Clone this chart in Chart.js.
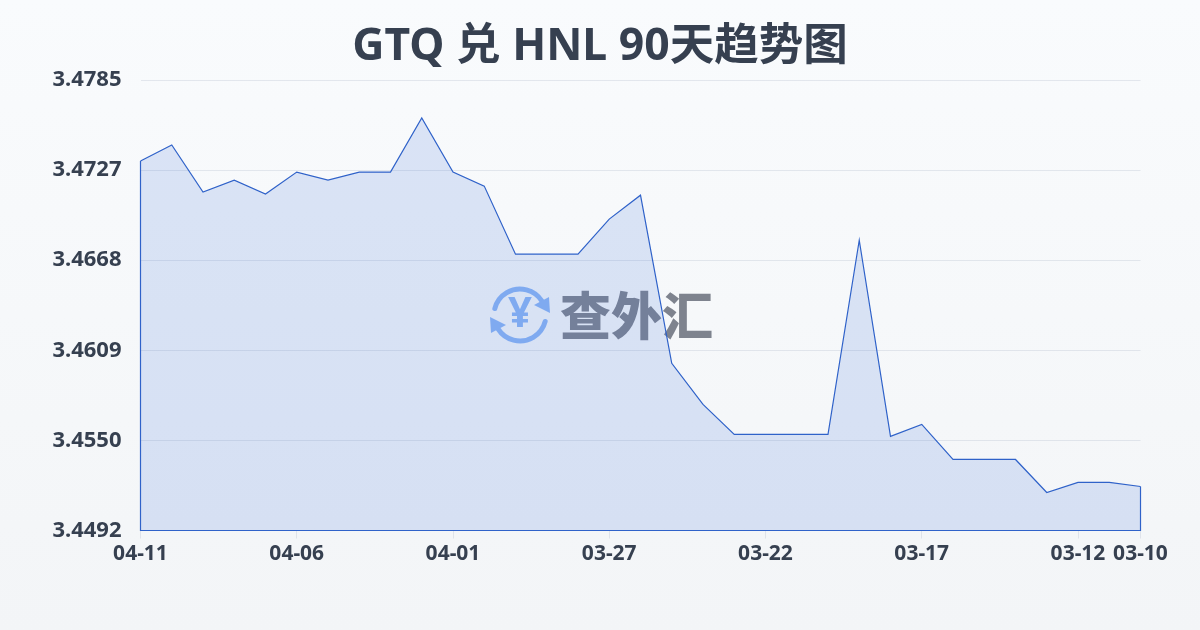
<!DOCTYPE html>
<html><head><meta charset="utf-8">
<script src="https://cdn.jsdelivr.net/npm/chart.js@4/dist/chart.umd.min.js"></script>
<style>
html,body{margin:0;padding:0;width:1200px;height:630px;overflow:hidden;background:linear-gradient(180deg,#f9fbfd 0%,#f3f5f7 100%);}
#w{position:absolute;left:0;top:0;width:1200px;height:630px}
</style></head><body><div id="w"><canvas id="c" width="1200" height="630"></canvas></div>
<script>
const titleText = 'GTQ 兑 HNL 90天趋势图';
const watermarkText = '查外汇';
const categories = ['04-11','04-10','04-09','04-08','04-07','04-06','04-05','04-04','04-03','04-02','04-01','03-31','03-30','03-29','03-28','03-27','03-26','03-25','03-24','03-23','03-22','03-21','03-20','03-19','03-18','03-17','03-16','03-15','03-14','03-13','03-12','03-11','03-10'];
const rates = [3.47323,3.47427,3.47121,3.47199,3.47108,3.47251,3.47199,3.47251,3.47251,3.47603,3.47251,3.47160,3.46717,3.46717,3.46717,3.46945,3.47101,3.46007,3.45740,3.45545,3.45545,3.45545,3.45545,3.46808,3.45532,3.45610,3.45382,3.45382,3.45382,3.45167,3.45233,3.45233,3.45206];
const xTickLabels = ['04-11','04-06','04-01','03-27','03-22','03-17','03-12','03-10'];
const yTickLabels = ['3.4492','3.4550','3.4609','3.4668','3.4727','3.4785'];
const yMin = 3.4492, yMax = 3.4785;
const sans = '"Noto Sans","Noto Sans CJK SC",sans-serif';
const textColor = '#364050';
const lineColor = '#2f62c9';

const closeOutline = {
  id:'closeOutline',
  afterDatasetsDraw(chart){
    const a = chart.chartArea, m = chart.getDatasetMeta(0).data, ctx = chart.ctx;
    ctx.save(); ctx.strokeStyle=lineColor; ctx.lineWidth=1.2; ctx.beginPath();
    ctx.moveTo(m[0].x,m[0].y); ctx.lineTo(m[0].x,a.bottom); ctx.lineTo(m[m.length-1].x,a.bottom); ctx.lineTo(m[m.length-1].x,m[m.length-1].y);
    ctx.stroke(); ctx.restore();
  }
};
const watermark = {
  id:'watermark',
  beforeDatasetsDraw(chart){
    const ctx = chart.ctx, cx=520, cy=315, r=26;
    ctx.save();
    ctx.strokeStyle='#8db6f5'; ctx.fillStyle='#8db6f5'; ctx.lineWidth=5; ctx.lineCap='round';
    ctx.beginPath(); ctx.arc(cx,cy,r,Math.PI*1.08,Math.PI*1.82); ctx.stroke();
    ctx.beginPath(); ctx.arc(cx,cy,r,Math.PI*0.08,Math.PI*0.82); ctx.stroke();
    ctx.beginPath(); ctx.moveTo(549,297); ctx.lineTo(550,313); ctx.lineTo(534,305); ctx.closePath(); ctx.fill();
    ctx.beginPath(); ctx.moveTo(491,333); ctx.lineTo(490,317); ctx.lineTo(506,325); ctx.closePath(); ctx.fill();
    ctx.font='bold 42px '+sans; ctx.textAlign='center'; ctx.textBaseline='middle';
    ctx.fillText('¥',cx,cy);
    ctx.fillStyle='rgba(70,75,90,0.68)'; ctx.font='900 51px "Noto Sans CJK SC",sans-serif'; ctx.textAlign='left';
    ctx.fillText(watermarkText,560,316);
    ctx.restore();
  }
};
new Chart(document.getElementById('c'),{
  type:'line',
  data:{labels:categories,datasets:[{data:rates,borderColor:lineColor,borderWidth:1.2,backgroundColor:'rgba(59,110,217,0.155)',fill:'start',pointRadius:0,tension:0}]},
  options:{
    responsive:false,animation:false,
    plugins:{legend:{display:false},tooltip:{enabled:false},
      title:{display:true,text:titleText,color:textColor,font:{family:sans,size:44.5,weight:'bold'},padding:{top:20.5,bottom:6.1}}},
    scales:{
      x:{type:'category',offset:false,
        grid:{drawOnChartArea:false,drawTicks:true,tickLength:8,color:'#dfe3ea'},
        border:{display:false},
        afterBuildTicks(ax){ax.ticks=ax.ticks.filter(t=>xTickLabels.includes(categories[t.value]));},
        afterFit(ax){ax.height=99.5;},
        ticks:{autoSkip:false,maxRotation:0,padding:3,color:textColor,font:{family:sans,size:21,weight:'bold'},
          callback(v){return categories[v];}}},
      y:{min:yMin,max:yMax,
        grid:{color:'rgba(180,190,205,0.32)',drawTicks:false},
        border:{display:false},
        afterFit(ax){ax.width=140.5;},
        afterBuildTicks(ax){ax.ticks=yTickLabels.map((_,i)=>({value:yMin+i*(yMax-yMin)/5}));},
        ticks:{padding:19,color:textColor,font:{family:sans,size:22,weight:'bold'},
          callback(v,i){return yTickLabels[i];}}},
      yRightSpace:{position:'right',min:yMin,max:yMax,
        grid:{display:false},border:{display:false},ticks:{display:false},
        afterFit(ax){ax.width=59.5;}}
    }
  },
  plugins:[watermark,closeOutline]
});
</script></body></html>
